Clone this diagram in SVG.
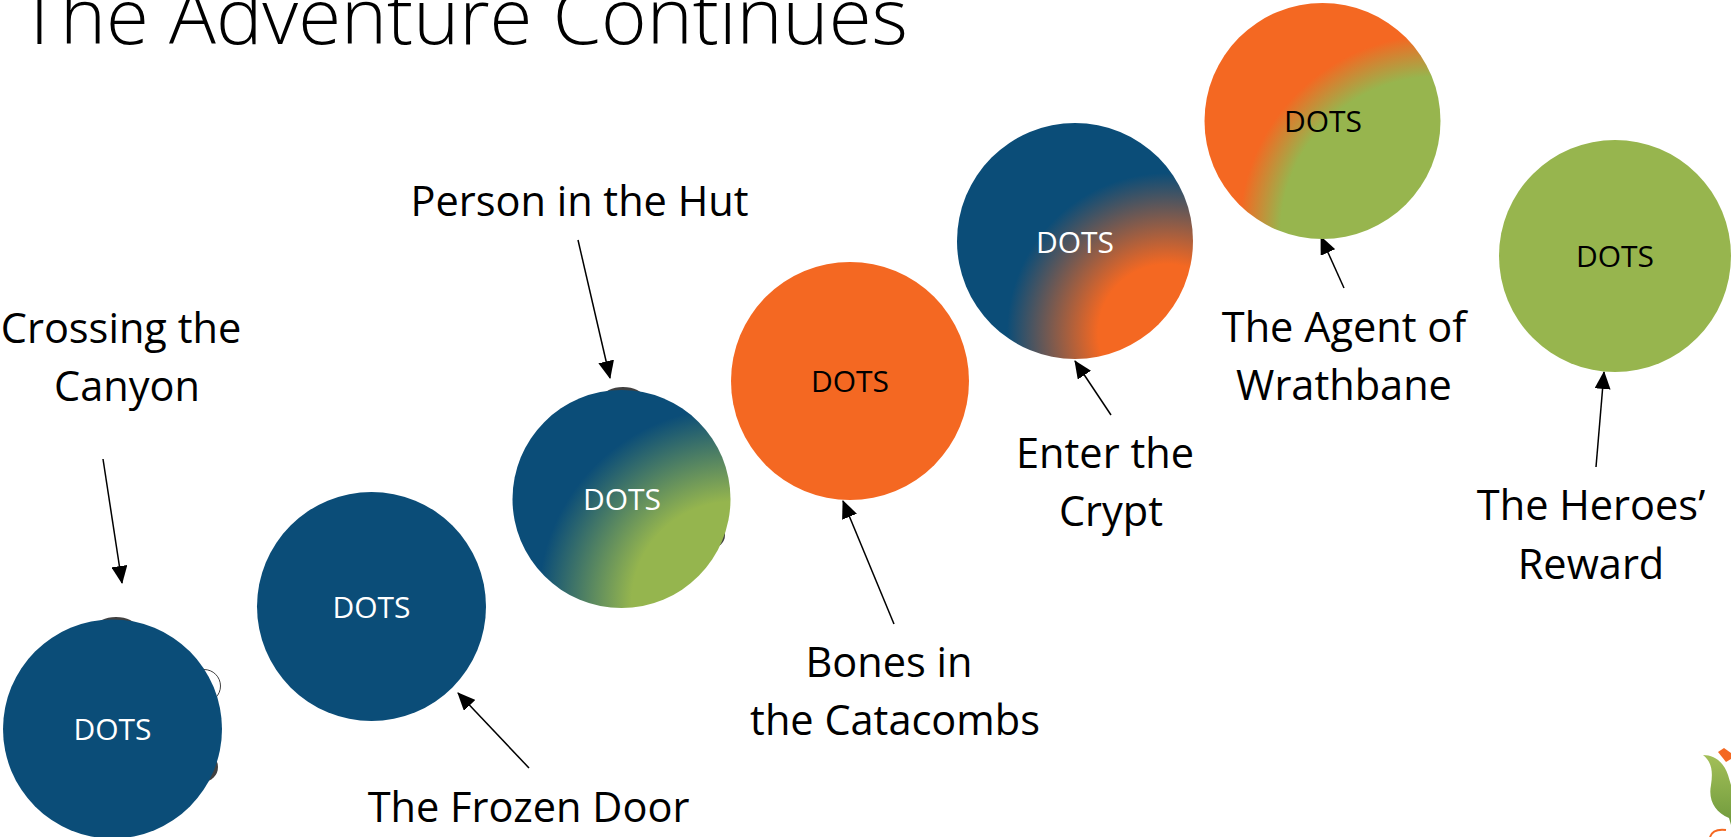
<svg xmlns="http://www.w3.org/2000/svg" width="1731" height="837" viewBox="0 0 1731 837">
<style>
text{font-family:"Open Sans","Noto Sans","Liberation Sans",sans-serif;text-anchor:middle}
.title{font-size:78px;font-weight:300;fill:#000;text-anchor:start}
.label{font-size:41.500px;fill:#000}
.dots{font-size:30px}
.w{fill:#fff}.k{fill:#000}
.conn{stroke:#000;stroke-width:1.5;fill:none;marker-end:url(#ah)}
.bump{fill:#404040}
</style>
<defs>
<marker id="ah" markerUnits="userSpaceOnUse" markerWidth="18" markerHeight="16" refX="17" refY="8" orient="auto"><path d="M0 0L18 8L0 16Z" fill="#000"/></marker>
<radialGradient id="g3" gradientUnits="userSpaceOnUse" cx="733" cy="603" r="195"><stop offset="0.52" stop-color="#95b54e"/><stop offset="1" stop-color="#0b4d78"/></radialGradient>
<radialGradient id="g5" gradientUnits="userSpaceOnUse" cx="1167" cy="333" r="160"><stop offset="0.43" stop-color="#f46822"/><stop offset="1" stop-color="#0b4d78"/></radialGradient>
<radialGradient id="g6" gradientUnits="userSpaceOnUse" cx="1437" cy="233" r="198"><stop offset="0.79" stop-color="#97b54e"/><stop offset="1" stop-color="#f46822"/></radialGradient>
<linearGradient id="leaf" x1="0" y1="0" x2="0" y2="1"><stop offset="0" stop-color="#a3bf58"/><stop offset="1" stop-color="#6f9a3c"/></linearGradient>
</defs>
<text class="title" x="19" y="44">The Adventure Continues</text>
<g id="connectors">
<path class="conn" d="M103 459L122 583"/>
<path class="conn" d="M529 768L458 693"/>
<path class="conn" d="M578 240L610 378"/>
<path class="conn" d="M894 624L843 501"/>
<path class="conn" d="M1111 415L1075 361"/>
<path class="conn" d="M1344 288L1321 237"/>
<path class="conn" d="M1596 467L1604 372"/>
</g>
<g id="node-crossing">
<ellipse class="bump" cx="116" cy="627" rx="20" ry="10"/>
<circle cx="204" cy="686" r="16.500" fill="#fff" stroke="#404040" stroke-width="1"/>
<circle class="bump" cx="203" cy="767" r="15"/>
<circle cx="112.500" cy="729" r="109.500" fill="#0b4d78"/>
<text class="dots w" x="112.500" y="740">DOTS</text>
<text class="label" x="121" y="343">Crossing the</text>
<text class="label" x="127" y="401">Canyon</text>
</g>
<g id="node-frozen">
<circle cx="371.500" cy="606.500" r="114.500" fill="#0b4d78"/>
<text class="dots w" x="371.500" y="618">DOTS</text>
<text class="label" x="528.500" y="822">The Frozen Door</text>
</g>
<g id="node-hut">
<ellipse class="bump" cx="623" cy="397" rx="20" ry="10"/>
<circle class="bump" cx="712" cy="535" r="13"/>
<circle cx="621.500" cy="499" r="109" fill="url(#g3)"/>
<text class="dots w" x="622" y="510">DOTS</text>
<text class="label" x="579.500" y="216">Person in the Hut</text>
</g>
<g id="node-bones">
<circle cx="850" cy="381" r="119" fill="#f46822"/>
<text class="dots k" x="850" y="392">DOTS</text>
<text class="label" x="889" y="677">Bones in</text>
<text class="label" x="895" y="735">the Catacombs</text>
</g>
<g id="node-crypt">
<circle cx="1075" cy="241" r="118" fill="url(#g5)"/>
<text class="dots w" x="1075" y="253">DOTS</text>
<text class="label" x="1105" y="468">Enter the</text>
<text class="label" x="1111" y="526">Crypt</text>
</g>
<g id="node-agent">
<circle cx="1322.500" cy="121" r="118" fill="url(#g6)"/>
<text class="dots k" x="1323" y="132">DOTS</text>
<text class="label" x="1344" y="342">The Agent of</text>
<text class="label" x="1344" y="400">Wrathbane</text>
</g>
<g id="node-reward">
<circle cx="1615" cy="256" r="116" fill="#97b54e"/>
<text class="dots k" x="1615" y="267">DOTS</text>
<text class="label" x="1591" y="520">The Heroes’</text>
<text class="label" x="1591" y="579">Reward</text>
</g>
<path d="M1703 755C1714 755 1724 762 1728 775L1731 785L1731 825L1729 818C1715 812 1708 800 1711 785C1713 772 1712 762 1703 755Z" fill="url(#leaf)"/>
<path d="M1718 752L1724 748L1731 753L1731 759L1726 762Z" fill="#f46822"/>
<path d="M1710 837C1712 831 1718 829 1726 830" fill="none" stroke="#f46822" stroke-width="2"/>
</svg>
